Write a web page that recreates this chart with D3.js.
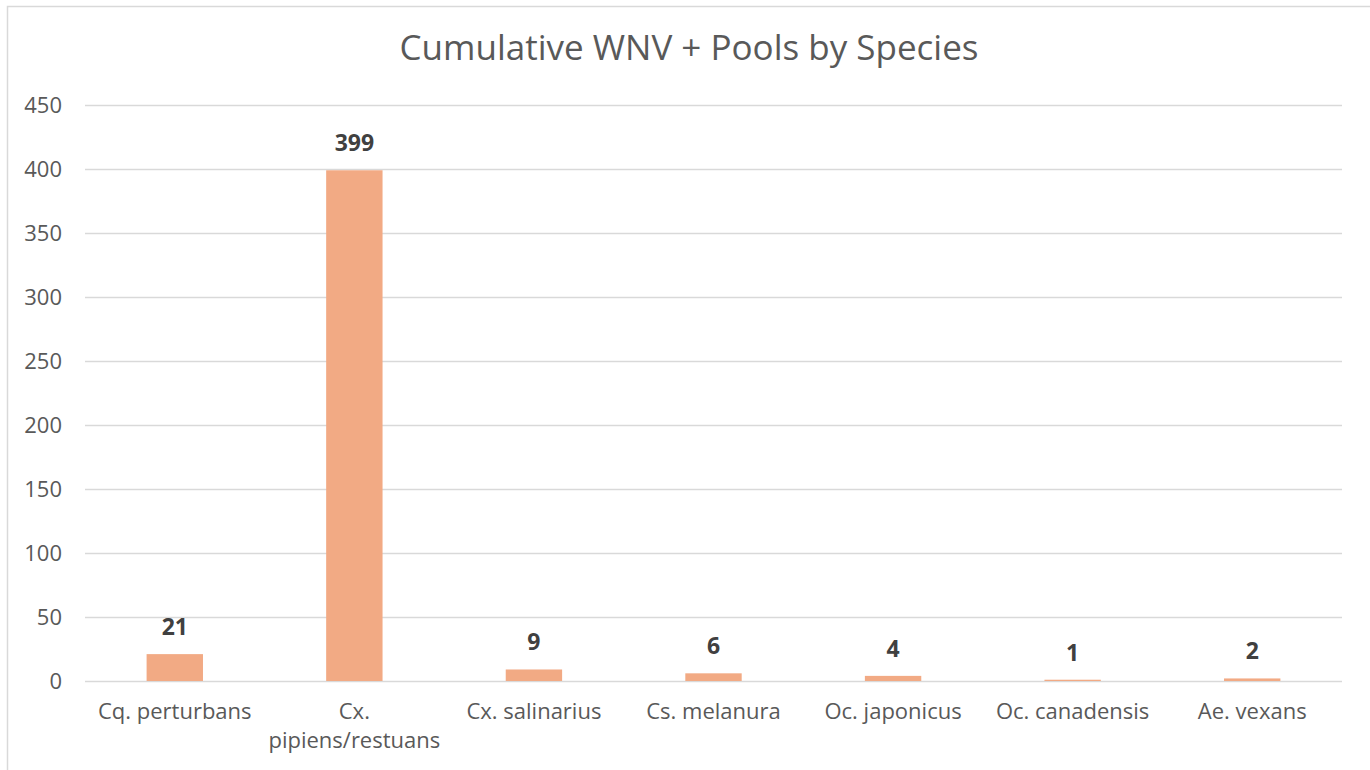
<!DOCTYPE html>
<html>
<head>
<meta charset="utf-8">
<script src="https://cdn.jsdelivr.net/npm/d3@7"></script>
<style>
  body { margin: 0; background: #fff; }
  svg { display: block; font-family: "Open Sans", sans-serif; }
</style>
</head>
<body>
<div id="chart"></div>
<script>
const title = "Cumulative WNV + Pools by Species";
const species = ["Cq. perturbans", "Cx. pipiens/restuans", "Cx. salinarius", "Cs. melanura", "Oc. japonicus", "Oc. canadensis", "Ae. vexans"];
const pools = [21, 399, 9, 6, 4, 1, 2];
const yTicks = [0, 50, 100, 150, 200, 250, 300, 350, 400, 450];

const width = 1370,
    height = 770,
    margin = {top: 105, right: 28, bottom: 89, left: 85};

const svg = d3.select("#chart").append("svg")
    .attr("width", width)
    .attr("height", height);

// chart frame
svg.append("rect")
    .attr("x", 7.5).attr("y", 6.5)
    .attr("width", width).attr("height", height)
    .attr("fill", "none")
    .attr("stroke", "#d9d9d9")
    .attr("stroke-width", 1.5);

svg.append("text")
    .attr("x", 689).attr("y", 60)
    .attr("text-anchor", "middle")
    .attr("font-size", 35)
    .attr("fill", "#595959")
    .text(title);

const x = d3.scaleBand()
    .domain(species)
    .range([margin.left, width - margin.right])
    .paddingInner(0.686)
    .paddingOuter(0.343);

const y = d3.scaleLinear()
    .domain([0, 450])
    .range([height - margin.bottom, margin.top]);

const yAxis = svg.append("g")
    .attr("transform", `translate(${margin.left},0)`)
    .call(d3.axisLeft(y).tickValues(yTicks).tickSize(-(width - margin.right - margin.left)).tickPadding(23));
yAxis.select(".domain").remove();
yAxis.selectAll(".tick line").attr("stroke", "#d9d9d9").attr("stroke-width", 1.5);
yAxis.selectAll(".tick text")
    .attr("font-size", 22)
    .attr("font-family", "Open Sans, sans-serif")
    .attr("fill", "#595959");

svg.append("g")
    .selectAll(".bar")
    .data(pools)
    .enter().append("rect")
    .attr("class", "bar")
    .attr("x", (d, i) => x(species[i]))
    .attr("y", (d) => y(d))
    .attr("width", x.bandwidth())
    .attr("height", (d) => y(0) - y(d))
    .attr("fill", "#f2aa84");

svg.append("g")
    .selectAll(".label")
    .data(pools)
    .enter().append("text")
    .attr("class", "label")
    .attr("x", (d, i) => x(species[i]) + x.bandwidth() / 2)
    .attr("y", (d) => y(d) - 19)
    .attr("text-anchor", "middle")
    .attr("font-size", 23)
    .attr("font-weight", "bold")
    .attr("fill", "#404040")
    .text((d) => d);

// category labels, wrapped when wider than the band
const xl = svg.append("g")
    .selectAll(".xlabel")
    .data(species)
    .enter().append("text")
    .attr("class", "xlabel")
    .attr("x", (d) => x(d) + x.bandwidth() / 2)
    .attr("y", y(0) + 38)
    .attr("text-anchor", "middle")
    .attr("font-size", 22)
    .attr("fill", "#595959")
    .text((d) => d);

xl.each(function(d) {
  const t = d3.select(this);
  if (this.getComputedTextLength() > x.step() - 8) {
    const words = d.split(" ");
    const cx = t.attr("x");
    t.text(null);
    words.forEach((w, i) => {
      t.append("tspan").attr("x", cx).attr("dy", i ? 29 : 0).text(w);
    });
  }
});
</script>
</body>
</html>
